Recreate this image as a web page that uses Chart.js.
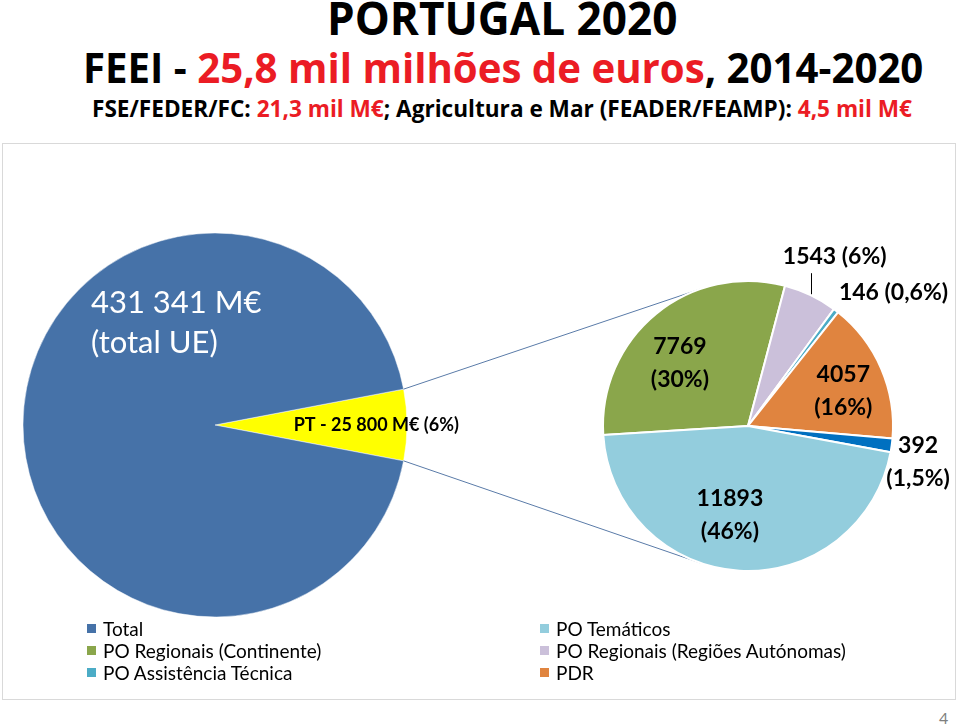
<!DOCTYPE html>
<html lang="pt">
<head>
<meta charset="utf-8">
<title>Portugal 2020 - FEEI</title>
<script src="https://cdn.jsdelivr.net/npm/chart.js@4/dist/chart.umd.min.js"></script>
<style>
  body { margin: 0; width: 960px; height: 728px; position: relative; background: #fff; overflow: hidden; }
  .titulo { position: absolute; white-space: nowrap; font-family: "Open Sans", sans-serif; font-weight: bold; color: #000;
            line-height: 1; transform-origin: left top; }
  .vermelho { color: #EB1C24; }
  #t1 { left: 327px; top: -6px; font-size: 46px; }
  #t2 { left: 83px; top: 46px; font-size: 42px; }
  #t3 { left: 92px; top: 96px; font-size: 24px; }
  #caixa { position: absolute; left: 3px; top: 144px; width: 952px; height: 555px; outline: 1px solid #d9d9d9; }
  #caixa canvas { position: absolute; left: 0; top: 0; }
  #legenda { position: absolute; left: 87px; top: 617px; width: 820px; font-family: Lato, sans-serif; font-size: 19px; color: #000;
             display: grid; grid-template-columns: 453px auto; }
  .item { height: 22px; display: flex; align-items: center; white-space: nowrap; }
  .quadrado { width: 9px; height: 9px; margin-right: 7px; flex: none; }
  #pagina { position: absolute; left: 939px; top: 708px; color: #7f7f7f; font-family: Lato, sans-serif; font-size: 16px; }
</style>
</head>
<body>

<div class="titulo" id="t1">PORTUGAL 2020</div>
<div class="titulo" id="t2">FEEI - <span class="vermelho">25,8 mil milhões de euros</span>, 2014-2020</div>
<div class="titulo" id="t3">FSE/FEDER/FC: <span class="vermelho">21,3 mil M€</span>; Agricultura e Mar (FEADER/FEAMP): <span class="vermelho">4,5 mil M€</span></div>

<div id="caixa">
  <canvas id="graficoUE" width="952" height="555"></canvas>
  <canvas id="graficoPT" width="952" height="555"></canvas>
</div>
<div id="legenda"></div>
<div id="pagina">4</div>

<script>
// valores em milhões de euros
const categoriasUE = ['PT', 'Total'];
const valoresUE = [25800, 405541];
const coresUE = ['#FFFF00', '#4672A8'];

const categoriasPT = ['PO Regionais (Continente)', 'PO Regionais (Regiões Autónomas)', 'PO Assistência Técnica', 'PDR', 'Mar 2020', 'PO Temáticos'];
const valoresPT = [7769, 1543, 146, 4057, 392, 11893];
const coresPT = ['#8AA64B', '#CBC0DA', '#4BACC6', '#E0843F', '#0070C0', '#93CDDD'];

// ordem da legenda (2 colunas)
const itensLegenda = ['Total', 'PO Temáticos', 'PO Regionais (Continente)', 'PO Regionais (Regiões Autónomas)', 'PO Assistência Técnica', 'PDR'];

// títulos comprimidos à largura do original (fonte condensada)
[['t1', 350], ['t2', 840], ['t3', 820]].forEach(([id, largura]) => {
    const el = document.getElementById(id);
    el.style.transform = `scaleX(${largura / el.offsetWidth})`;
});

const totalUE = valoresUE.reduce((a, b) => a + b, 0);
const totalPT = valoresPT.reduce((a, b) => a + b, 0);

function milhares(v) {
    return v.toString().replace(/\B(?=(\d{3})+(?!\d))/g, ' ');
}

function percentagem(v, total) {
    const p = v / total * 100;
    if (p < 2) return p.toFixed(1).replace('.', ',') + '%';
    return Math.round(p) + '%';
}

// posição dos rótulos do gráfico PT: desvio de ângulo (graus) e fração do raio
const posRotulos = [
    { ang: -7.8, r: 0.64, duasLinhas: true },
    { ang: 1.6, r: 1.31, duasLinhas: false, guia: true },
    { ang: 10.2, r: 1.36, duasLinhas: false },
    { ang: 3.2, r: 0.70, duasLinhas: true },
    { ang: 4.4, r: 1.20, duasLinhas: true },
    { ang: 8, r: 0.63, duasLinhas: true }
];

const rotulosUE = {
    id: 'rotulosUE',
    afterDatasetsDraw(chart) {
        const ctx = chart.ctx;
        const arcos = chart.getDatasetMeta(0).data;
        const pt = arcos[0].getProps(['x', 'y', 'startAngle', 'endAngle', 'outerRadius']);
        ctx.save();

        // total UE
        ctx.fillStyle = '#ffffff';
        ctx.font = '31px Lato';
        ctx.textAlign = 'left';
        ctx.textBaseline = 'alphabetic';
        const x0 = pt.x - pt.outerRadius * 0.646;
        const y0 = pt.y - pt.outerRadius * 0.583;
        ctx.fillText(milhares(totalUE) + ' M€', x0, y0);
        ctx.fillText('(total UE)', x0, y0 + 40);

        // fatia PT
        const meio = (pt.startAngle + pt.endAngle) / 2;
        ctx.fillStyle = '#000000';
        ctx.font = 'bold 18px Lato';
        ctx.textAlign = 'center';
        ctx.textBaseline = 'middle';
        ctx.fillText(categoriasUE[0] + ' - ' + milhares(valoresUE[0]) + ' M€ (' + percentagem(valoresUE[0], totalUE) + ')',
            pt.x + Math.cos(meio) * pt.outerRadius * 0.84, pt.y + Math.sin(meio) * pt.outerRadius * 0.84);
        ctx.restore();
    }
};

const graficoUE = new Chart(document.getElementById('graficoUE'), {
    type: 'pie',
    data: {
        labels: categoriasUE,
        datasets: [{
            data: valoresUE,
            backgroundColor: coresUE,
            borderColor: '#ffffff',
            borderWidth: 0.5
        }]
    },
    options: {
        responsive: false,
        animation: false,
        rotation: 90 - (valoresUE[0] / totalUE * 360) / 2,   // fatia PT centrada à direita
        radius: 192,
        layout: { padding: { left: 20, top: 89, right: 548, bottom: 82 } },
        plugins: {
            legend: { display: false },
            tooltip: { enabled: false }
        }
    },
    plugins: [rotulosUE]
});

// linhas que ligam a fatia PT ao segundo gráfico
const ligacao = {
    id: 'ligacao',
    beforeDatasetsDraw(chart) {
        const f = graficoUE.getDatasetMeta(0).data[0].getProps(['x', 'y', 'startAngle', 'endAngle', 'outerRadius']);
        const c = chart.getDatasetMeta(0).data[0].getProps(['x', 'y', 'outerRadius']);
        const ctx = chart.ctx;
        ctx.save();
        ctx.strokeStyle = '#5A7BA8';
        ctx.lineWidth = 1;
        [[f.startAngle, 1], [f.endAngle, -1]].forEach(([a, s]) => {
            const px = f.x + Math.cos(a) * f.outerRadius;
            const py = f.y + Math.sin(a) * f.outerRadius;
            const d = Math.hypot(px - c.x, py - c.y);
            const t = Math.atan2(py - c.y, px - c.x) + s * Math.acos(c.outerRadius / d);
            ctx.beginPath();
            ctx.moveTo(px, py);
            ctx.lineTo(c.x + Math.cos(t) * c.outerRadius, c.y + Math.sin(t) * c.outerRadius);
            ctx.stroke();
        });
        ctx.restore();
    }
};

const rotulosPT = {
    id: 'rotulosPT',
    afterDatasetsDraw(chart) {
        const ctx = chart.ctx;
        const arcos = chart.getDatasetMeta(0).data;
        ctx.save();
        ctx.font = 'bold 23px Lato';
        ctx.fillStyle = '#000000';
        ctx.textAlign = 'center';
        ctx.textBaseline = 'middle';
        arcos.forEach((arco, i) => {
            const p = arco.getProps(['x', 'y', 'startAngle', 'endAngle', 'outerRadius']);
            const pos = posRotulos[i];
            const meio = (p.startAngle + p.endAngle) / 2;
            const a = meio + pos.ang * Math.PI / 180;
            const x = p.x + Math.cos(a) * p.outerRadius * pos.r;
            const y = p.y + Math.sin(a) * p.outerRadius * pos.r;
            const valor = String(valoresPT[i]);
            const pc = '(' + percentagem(valoresPT[i], totalPT) + ')';
            if (pos.duasLinhas) {
                ctx.fillText(valor, x, y - 16.5);
                ctx.fillText(pc, x, y + 16.5);
            } else {
                ctx.fillText(valor + ' ' + pc, x, y);
            }
            if (pos.guia) {
                const gx = Math.round(p.x + Math.cos(meio) * p.outerRadius) + 0.5;
                const gy = p.y + Math.sin(meio) * p.outerRadius;
                ctx.strokeStyle = '#000000';
                ctx.lineWidth = 1;
                ctx.beginPath();
                ctx.moveTo(gx, gy - 1);
                ctx.lineTo(gx, gy - 22);
                ctx.stroke();
            }
        });
        ctx.restore();
    }
};

const graficoPT = new Chart(document.getElementById('graficoPT'), {
    type: 'pie',
    data: {
        labels: categoriasPT,
        datasets: [{
            data: valoresPT,
            backgroundColor: coresPT,
            borderColor: '#ffffff',
            borderWidth: 2
        }]
    },
    options: {
        responsive: false,
        animation: false,
        rotation: 266.4,
        radius: 145,
        layout: { padding: { left: 600, top: 137, right: 62, bottom: 128 } },
        plugins: {
            legend: { display: false },
            tooltip: { enabled: false }
        }
    },
    plugins: [ligacao, rotulosPT]
});

// legenda
const legendaDiv = document.getElementById('legenda');
itensLegenda.forEach(nome => {
    let cor = coresPT[categoriasPT.indexOf(nome)];
    if (nome === 'Total') cor = coresUE[categoriasUE.indexOf('Total')];
    legendaDiv.innerHTML += `
        <div class="item"><span class="quadrado" style="background:${cor}"></span>${nome}</div>
    `;
});
</script>
</body>
</html>
